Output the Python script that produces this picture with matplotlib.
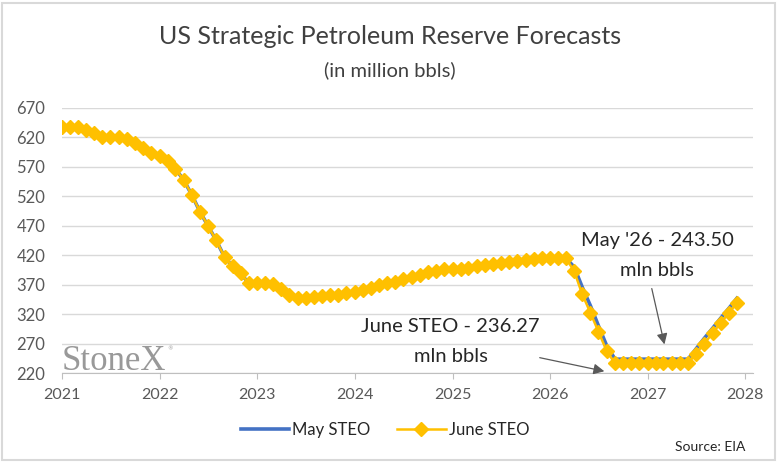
# US SPR forecasts, May vs June STEO

import pandas as pd
import matplotlib.pyplot as plt
import matplotlib.dates as mdates
import matplotlib.patches as patches

plt.rcParams['font.family'] = ['Lato', 'DejaVu Sans']

months = pd.date_range('2021-01-01', periods=84, freq='MS')

june_steo = [
    638, 638, 638, 633, 628, 621, 621, 621, 617, 610, 602, 594,   # 2021
    588, 580, 567, 548, 523, 494, 470, 445, 417, 401, 389, 372,   # 2022
    372, 372, 371, 362, 353, 347, 348, 349, 350, 352, 353, 355,   # 2023
    357, 361, 365, 370, 372, 375, 379, 383, 387, 391, 394, 396,   # 2024
    397, 397, 399, 401, 404, 405, 406, 408, 410, 412, 414, 415,   # 2025
    416, 416, 415, 393, 354, 322, 290, 257, 236.27, 236.27, 236.27, 236.27,  # 2026
    236.27, 236.27, 236.27, 236.27, 236.27, 236.27, 253, 270, 288, 305, 322, 339,  # 2027
]
may_steo = june_steo[:63] + [
    400, 366, 334, 300, 266, 243.5, 243.5, 243.5, 243.5,           # 2026
    243.5, 243.5, 243.5, 243.5, 243.5, 243.5, 261, 279, 296, 313, 330, 347,  # 2027
]

yticks = list(range(220, 671, 50))

grey_txt = '#595959'
blue = '#4472C4'
gold = '#FFC000'

fig = plt.figure(figsize=(7.79, 4.63), dpi=100)
ax = fig.add_axes([62/779, 1-373/463, (753-62)/779, (373-108)/463])

ax.plot(months, may_steo, color=blue, lw=2.6, label='May STEO', zorder=3)
ax.plot(months, june_steo, color=gold, lw=1.8, marker='D', markersize=7,
        label='June STEO', zorder=4)

ax.set_ylim(220, 670)
ax.set_yticks(yticks)
ax.set_xlim(pd.Timestamp('2021-01-01'), pd.Timestamp('2028-01-30'))
ax.xaxis.set_major_locator(mdates.YearLocator())
ax.xaxis.set_major_formatter(mdates.DateFormatter('%Y'))

ax.grid(axis='y', color='#d9d9d9', lw=1)
ax.set_axisbelow(True)
for s in ['top', 'right', 'left']:
    ax.spines[s].set_visible(False)
ax.spines['bottom'].set_color('#bfbfbf')
ax.tick_params(axis='y', length=0, pad=12, labelsize=12, labelcolor=grey_txt)
ax.tick_params(axis='x', length=4, color='#bfbfbf', pad=7, labelsize=11.5, labelcolor=grey_txt)

# titles
fig.text(390/779, 1-37/463, 'US Strategic Petroleum Reserve Forecasts',
         ha='center', va='center', fontsize=18, color='#404040')
fig.text(390/779, 1-70/463, '(in million bbls)',
         ha='center', va='center', fontsize=14.5, color='#404040')

# annotations
fig.text(450/779, 1-327/463, 'June STEO - 236.27', ha='center', va='center',
         fontsize=14.5, color='#262626')
fig.text(451/779, 1-357/463, 'mln bbls', ha='center', va='center',
         fontsize=14.5, color='#262626')
fig.text(657/779, 1-240/463, "May '26 - 243.50", ha='center', va='center',
         fontsize=14.5, color='#262626')
fig.text(657/779, 1-270/463, 'mln bbls', ha='center', va='center',
         fontsize=14.5, color='#262626')

arrow = dict(arrowstyle='-|>', color='#595959', lw=0.9, mutation_scale=16)
ax.annotate('', xy=(pd.Timestamp('2026-08-02'), 222),
            xytext=(pd.Timestamp('2025-11-13'), 247), arrowprops=arrow)
ax.annotate('', xy=(pd.Timestamp('2027-03-07'), 264),
            xytext=(pd.Timestamp('2027-01-14'), 368), arrowprops=arrow)

# logo
fig.text(62/779, 1-370/463, 'StoneX', family='Liberation Serif', fontsize=25,
         color='#999999', ha='left', va='baseline')
fig.text(167/779, 1-350/463, '®', family='DejaVu Sans', fontsize=4,
         color='#999999', ha='left', va='baseline')

fig.legend(loc='center', bbox_to_anchor=(385/779, 1-430/463), ncol=2,
           frameon=False, fontsize=12, handlelength=2.9, columnspacing=1.6,
           handletextpad=0.2, labelcolor='#262626')

fig.text(745/779, 1-447/463, 'Source: EIA', ha='right', va='center',
         fontsize=10, color='#262626')

fig.patches.append(patches.Rectangle((2/779, 3/463), 773/779, 457/463,
                                     transform=fig.transFigure, fill=False,
                                     edgecolor='#d9d9d9', lw=1.5))

fig.savefig('out.png', dpi=100)
